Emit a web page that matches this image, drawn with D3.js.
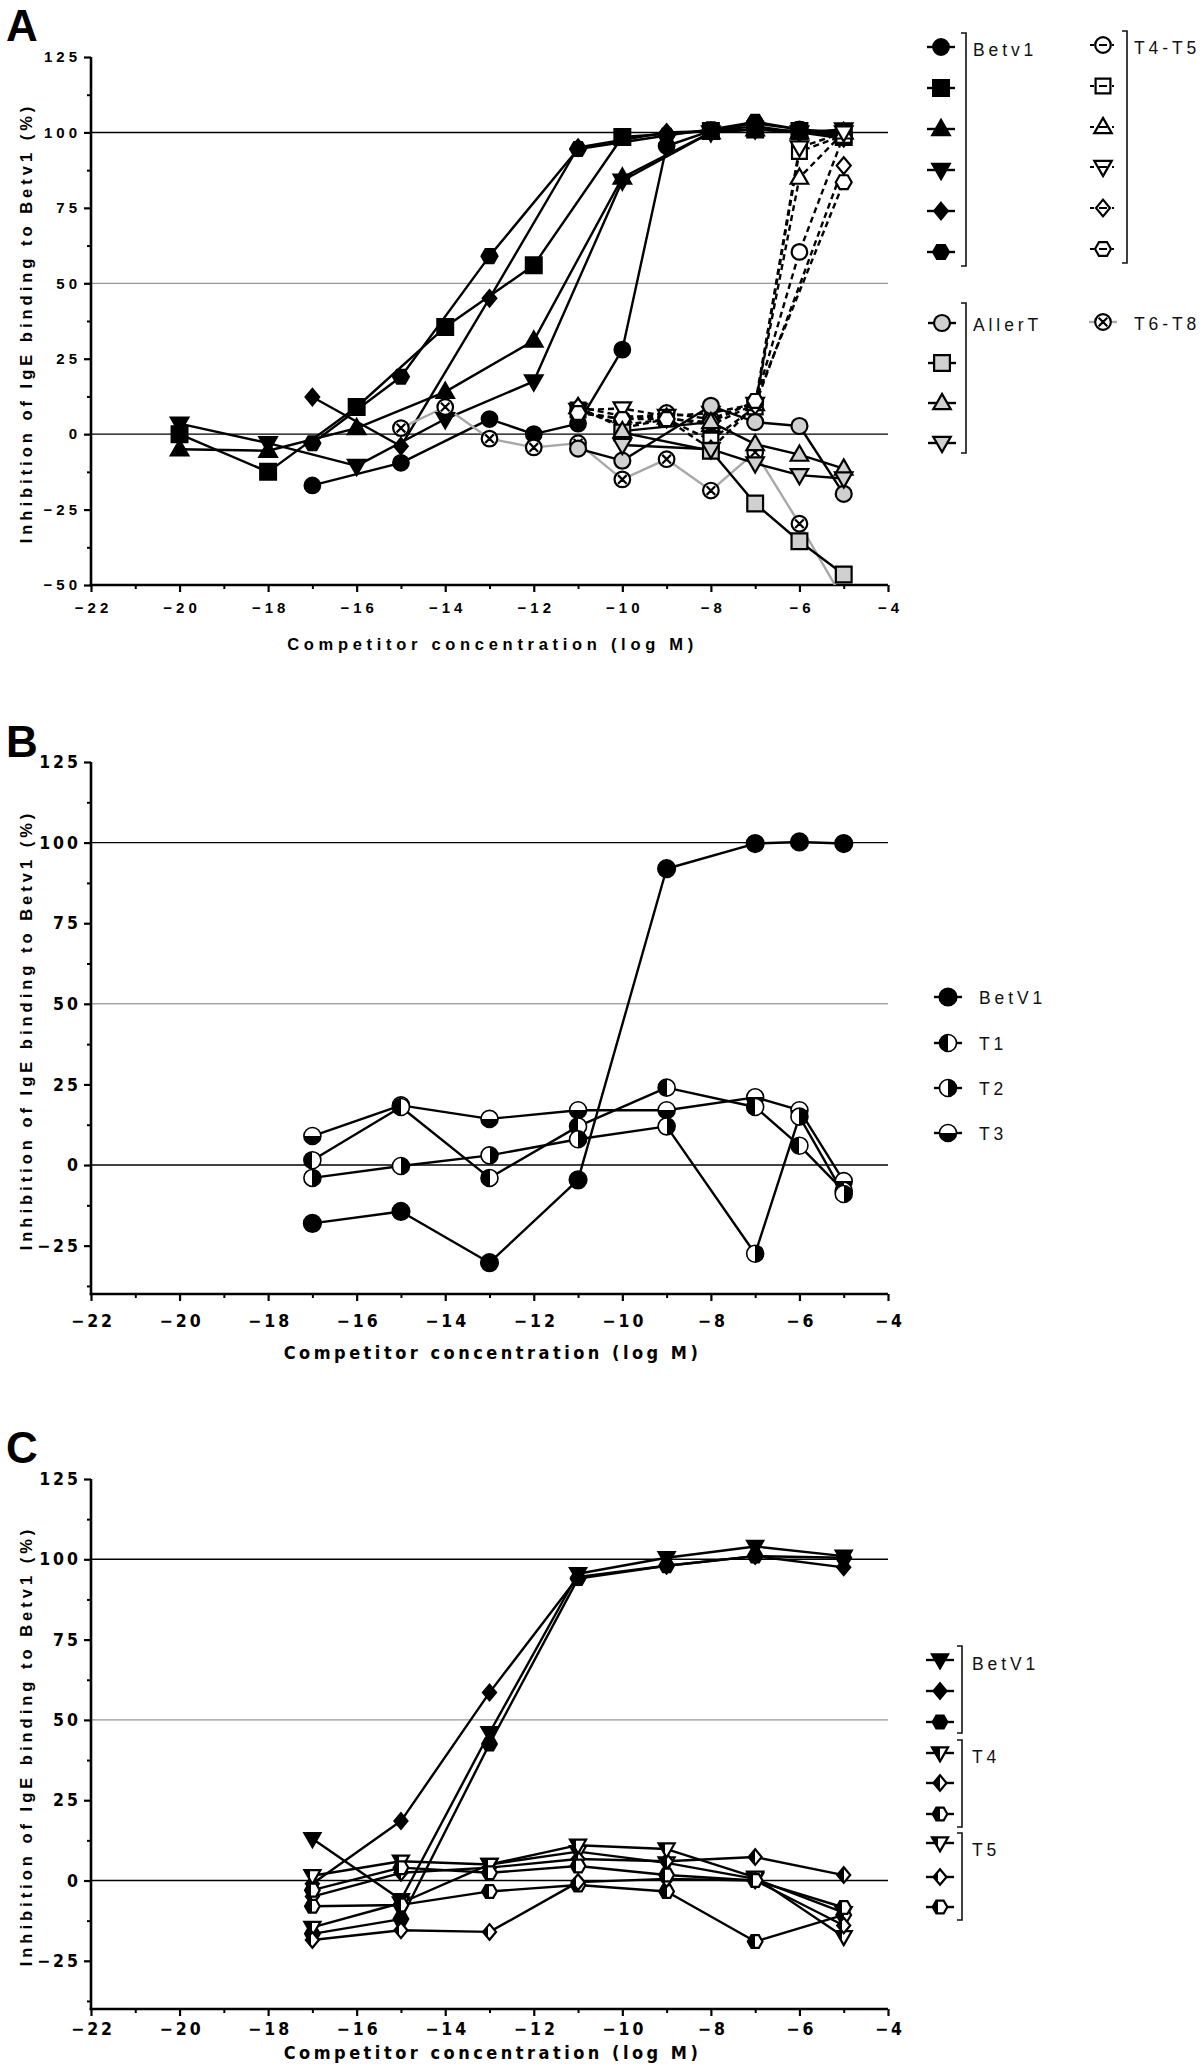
<!DOCTYPE html>
<html><head><meta charset="utf-8">
<script src="https://cdn.jsdelivr.net/npm/d3@7"></script>
<style>body{margin:0;background:#fff}</style>
</head><body>
<script>
// ---------------- DATA ----------------
const xMajorTicks = [-22,-20,-18,-16,-14,-12,-10,-8,-6,-4];
const xMinorTicks = [-21,-19,-17,-15,-13,-11,-9,-7,-5];
const yMajorTicksA = [125,100,75,50,25,0,-25,-50];
const yMinorTicksA = [112.5,87.5,62.5,37.5,12.5,-12.5,-37.5];
const yMajorTicksBC = [125,100,75,50,25,0,-25];
const yMinorTicksBC = [112.5,87.5,62.5,37.5,12.5,-12.5,-37.5];
const gridValues = [100,50,0];
const yTitle = "Inhibition of IgE binding to Betv1 (%)";
const xTitle = "Competitor concentration (log M)";

// Panel A — Betv1 (filled black)
const aBetv1Circle   = [[-17,-17],[-15,-9.5],[-13,5],[-12,0],[-11,3.5],[-10,28],[-9,95.5],[-8,100.5],[-7,103],[-6,101],[-5,99]];
const aBetv1Square   = [[-20,0],[-18,-12.5],[-16,9],[-14,35.5],[-12,56],[-10,98.5],[-8,100.5],[-7,101],[-6,100.5],[-5,98.5]];
const aBetv1TriUp    = [[-20,-5],[-18,-5.5],[-16,2],[-14,14],[-12,31],[-10,85],[-8,100],[-7,101],[-6,100],[-5,100]];
const aBetv1TriDown  = [[-20,3.5],[-18,-3],[-16,-10.5],[-14,5],[-12,17.5],[-10,84],[-8,100],[-7,101],[-6,100],[-5,101]];
const aBetv1Diamond  = [[-17,12.3],[-15,-4],[-13,45],[-11,95],[-9,100],[-8,100.5],[-7,102],[-6,100],[-5,98]];
const aBetv1Hexagon  = [[-17,-3],[-15,19],[-13,59],[-11,94.5],[-9,99],[-8,101],[-7,103.5],[-6,101],[-5,100]];
// Panel A — T4-T5 (open, dashed)
const aT45Circle  = [[-11,7.5],[-10,5],[-9,7],[-8,5],[-7,10.5],[-6,60.4],[-5,99]];
const aT45Square  = [[-11,8],[-10,3],[-9,5],[-8,-2],[-7,9],[-6,93.7],[-5,99]];
const aT45TriUp   = [[-11,9],[-10,6],[-9,5.5],[-8,3],[-7,10],[-6,85],[-5,100]];
const aT45TriDown = [[-11,8],[-10,8.5],[-9,6],[-8,7],[-7,10],[-6,95],[-5,100]];
const aT45Diamond = [[-11,9],[-10,2],[-9,5],[-8,-5],[-7,9.5],[-5,89]];
const aT45Hexagon = [[-11,7],[-10,5],[-9,5],[-8,4],[-7,11],[-5,83.5]];
// Panel A — AllerT (grey)
const aAllerCircle  = [[-11,-4.8],[-10,-8.8],[-8,9.4],[-7,4],[-6,2.7],[-5,-19.8]];
const aAllerSquare  = [[-10,0.5],[-8,-5.5],[-7,-23],[-6,-35.5],[-5,-46.5]];
const aAllerTriUp   = [[-10,1],[-8,4],[-7,-3.3],[-6,-6.8],[-5,-11.4]];
const aAllerTriDown = [[-10,-3.6],[-8,-5],[-7,-9.7],[-6,-13.6],[-5,-14.7]];
// Panel A — T6-T8
const aT68 = [[-15,2],[-14,9],[-13,-1.5],[-12,-4.4],[-11,-3],[-10,-15],[-9,-8.3],[-8,-18.7],[-7,-6],[-6,-29.7],[-5,-55]];

// Panel B
const bBetV1 = [[-17,-18.1],[-15,-14.4],[-13,-30.3],[-11,-4.6],[-9,91.9],[-7,99.7],[-6,100.2],[-5,99.7]];
const bT1    = [[-17,1.5],[-15,18],[-13,-4],[-11,12],[-9,24],[-7,18],[-6,6],[-5,-8]];
const bT2    = [[-17,-4],[-15,-0.3],[-13,3],[-11,8],[-9,12],[-7,-27.5],[-6,15],[-5,-9]];
const bT3    = [[-17,9],[-15,18.5],[-13,14.3],[-11,17],[-9,17],[-7,21],[-6,17],[-5,-5]];

// Panel C
const cBetV1TriDown = [[-17,13],[-15,-6],[-13,46],[-11,95.5],[-9,100.5],[-7,104],[-5,101]];
const cBetV1Diamond = [[-17,-1],[-15,18.5],[-13,58.5],[-11,94.5],[-9,98],[-7,101],[-5,97.5]];
const cBetV1Hexagon = [[-17,-16.6],[-15,-12],[-13,42.5],[-11,94],[-9,98],[-7,101],[-5,100.5]];
const cT4TriDown = [[-17,-14.6],[-15,-7],[-13,5],[-11,9],[-9,5.5],[-7,0.5],[-5,-10]];
const cT4Diamond = [[-17,-5],[-15,2.4],[-13,4],[-11,6.7],[-9,6],[-7,7.3],[-5,1.7]];
const cT4Hexagon = [[-17,-8],[-15,-7.6],[-13,-3.4],[-11,-1.4],[-9,-3.4],[-7,-19],[-5,-10.7]];
const cT5TriDown = [[-17,1.5],[-15,6],[-13,5],[-11,11],[-9,9.8],[-7,1],[-5,-17.5]];
const cT5Diamond = [[-17,-18.5],[-15,-15.5],[-13,-16],[-11,-0.5],[-9,0.5],[-7,0],[-5,-14]];
const cT5Hexagon = [[-17,-3],[-15,4],[-13,2.4],[-11,4.5],[-9,1.7],[-7,0],[-5,-8.4]];

// ---------------- STYLE / LAYOUT ----------------
const W = 1200, H = 2066;
const svg = d3.select("body").append("svg").attr("width", W).attr("height", H)
  .style("font-family", "'Liberation Sans', Arial, sans-serif");
const defs = svg.append("defs");
function grad(id, vertical, stops) {
  const g = defs.append("linearGradient").attr("id", id)
    .attr("x1", 0).attr("y1", 0).attr("x2", vertical ? 0 : 1).attr("y2", vertical ? 1 : 0);
  stops.forEach(s => g.append("stop").attr("offset", s[0]).attr("stop-color", s[1]));
}
grad("halfLeft", false, [[0,"#000"],[0.5,"#000"],[0.5,"#fff"],[1,"#fff"]]);
grad("halfRight", false, [[0,"#fff"],[0.5,"#fff"],[0.5,"#000"],[1,"#000"]]);
grad("halfBottom", true, [[0,"#fff"],[0.5,"#fff"],[0.5,"#000"],[1,"#000"]]);
grad("partLeft", false, [[0,"#000"],[0.38,"#000"],[0.38,"#fff"],[1,"#fff"]]);

function shapePath(shape, r) {
  const f = v => v.toFixed(2);
  switch (shape) {
    case "circle": return `M${f(r)},0A${f(r)},${f(r)} 0 1,1 ${f(-r)},0A${f(r)},${f(r)} 0 1,1 ${f(r)},0Z`;
    case "square": { const s = r * 0.95; return `M${f(-s)},${f(-s)}H${f(s)}V${f(s)}H${f(-s)}Z`; }
    case "triUp": return `M0,${f(-r*1.2)}L${f(r*1.15)},${f(r*0.8)}L${f(-r*1.15)},${f(r*0.8)}Z`;
    case "triDown": return `M0,${f(r*1.2)}L${f(r*1.15)},${f(-r*0.8)}L${f(-r*1.15)},${f(-r*0.8)}Z`;
    case "diamond": return `M0,${f(-r*1.2)}L${f(r*1.0)},0L0,${f(r*1.2)}L${f(-r*1.0)},0Z`;
    case "hexagon": {
      const a = r*1.05, h = a*0.87;
      return `M${f(a)},0L${f(a/2)},${f(h)}L${f(-a/2)},${f(h)}L${f(-a)},0L${f(-a/2)},${f(-h)}L${f(a/2)},${f(-h)}Z`;
    }
    case "cross": {
      const k = r * 0.55;
      return shapePath("circle", r) + `M${f(-k)},${f(-k)}L${f(k)},${f(k)}M${f(-k)},${f(k)}L${f(k)},${f(-k)}`;
    }
  }
}

const x = d3.scaleLinear().domain([-22, -4]).range([91, 888]);
const panels = [
  { id: "A", y: d3.scaleLinear().domain([-50,125]).range([585,57]), yMajor: yMajorTicksA, yMinor: yMinorTicksA,
    letterY: 41, xPad: 10, xTitleY: 650, narrow: false },
  { id: "B", y: d3.scaleLinear().domain([-40,125]).range([1294,762]), yMajor: yMajorTicksBC, yMinor: yMinorTicksBC,
    letterY: 757, xPad: 14, xTitleY: 1359, narrow: true },
  { id: "C", y: d3.scaleLinear().domain([-40,125]).range([2009,1479]), yMajor: yMajorTicksBC, yMinor: yMinorTicksBC,
    letterY: 1463, xPad: 7, xTitleY: 2059, narrow: true }
];
const narrowFont = "'Liberation Sans Narrow', 'DejaVu Sans Condensed', 'Liberation Sans', sans-serif";

function drawFrame(p) {
  const g = svg.append("g");
  const y = p.y;
  gridValues.forEach(v => {
    g.append("line").attr("x1", x(-22)).attr("x2", x(-4)).attr("y1", y(v)).attr("y2", y(v))
      .attr("stroke", v === 50 ? "#7a7a7a" : "#000").attr("stroke-width", v === 50 ? 1 : 1.4);
  });
  const tickFont = p.narrow ? 17.5 : 15;
  const tickSpace = p.narrow ? "3px" : "4px";
  const yAx = g.append("g").attr("transform", `translate(${x(-22)},0)`)
    .call(d3.axisLeft(y).tickValues(p.yMajor).tickSize(7).tickSizeOuter(0).tickPadding(3));
  yAx.select(".domain").attr("stroke-width", 2.6).attr("d", `M0,${y.range()[1]}V${y.range()[0]+1.3}`);
  yAx.selectAll(".tick line").attr("stroke-width", 2.2);
  yAx.selectAll(".tick text").attr("font-size", tickFont).attr("font-weight", "bold").attr("fill", "#000")
    .attr("font-family", p.narrow ? narrowFont : null).style("letter-spacing", tickSpace);
  g.append("g").attr("transform", `translate(${x(-22)},0)`)
    .call(d3.axisLeft(y).tickValues(p.yMinor).tickSize(4).tickFormat(""))
    .call(s => s.select(".domain").remove())
    .selectAll("line").attr("stroke-width", 2);
  const yBase = y.range()[0];
  const xAx = g.append("g").attr("transform", `translate(0,${yBase})`)
    .call(d3.axisBottom(x).tickValues(xMajorTicks).tickSize(7).tickSizeOuter(0).tickPadding(p.xPad));
  xAx.select(".domain").attr("stroke-width", 2.6).attr("d", `M${x(-22)-1.3},0H${x(-4)}`);
  xAx.selectAll(".tick line").attr("stroke-width", 2.2);
  xAx.selectAll(".tick text").attr("font-size", tickFont).attr("font-weight", "bold").attr("fill", "#000")
    .attr("font-family", p.narrow ? narrowFont : null).style("letter-spacing", tickSpace)
    .attr("dx", p.narrow ? "1.5px" : "2px");
  g.append("g").attr("transform", `translate(0,${yBase})`)
    .call(d3.axisBottom(x).tickValues(xMinorTicks).tickSize(4).tickFormat(""))
    .call(s => s.select(".domain").remove())
    .selectAll("line").attr("stroke-width", 2);
  const yMid = (y.range()[0] + y.range()[1]) / 2;
  g.append("text").attr("transform", `translate(32,${yMid + 2}) rotate(-90)`).attr("text-anchor", "middle")
    .attr("font-size", 16.5).attr("font-weight", "bold").style("letter-spacing", "4px")
    .text(yTitle);
  g.append("text").attr("x", (x(-22) + x(-4)) / 2 + 3).attr("y", p.xTitleY).attr("text-anchor", "middle")
    .attr("font-size", p.narrow ? 18 : 16.5).attr("font-weight", "bold")
    .attr("font-family", p.narrow ? narrowFont : null)
    .style("letter-spacing", p.narrow ? "3.5px" : "4.7px").text(xTitle);
  g.append("text").attr("x", 6).attr("y", p.letterY).attr("font-size", 44).attr("font-weight", "bold").text(p.id);
  defs.append("clipPath").attr("id", "clip" + p.id).append("rect")
    .attr("x", x(-22)).attr("y", y.range()[1] - 20).attr("width", x(-4) - x(-22) + 20)
    .attr("height", y.range()[0] - y.range()[1] + 20);
}
panels.forEach(drawFrame);

function drawSeries(p, list) {
  const y = p.y;
  const line = d3.line().x(d => x(d[0])).y(d => y(d[1]));
  const gl = svg.append("g").attr("clip-path", `url(#clip${p.id})`);
  list.forEach(s => {
    gl.append("path").datum(s.data).attr("d", line).attr("fill", "none")
      .attr("stroke", s.lineColor || "#000").attr("stroke-width", 2.4)
      .attr("stroke-dasharray", s.dash || null).attr("stroke-linejoin", "round");
  });
  const [lo, hi] = y.domain();
  list.forEach(s => {
    svg.append("g").selectAll("path").data(s.data.filter(d => d[1] >= lo && d[1] <= hi)).join("path")
      .attr("transform", d => `translate(${x(d[0])},${y(d[1])})`)
      .attr("d", shapePath(s.shape, s.r))
      .attr("fill", s.fill).attr("stroke", "#000").attr("stroke-width", s.sw || 2.2);
  });
}

const GREY = "#d0d0d0";
const seriesA = [
  { data: aBetv1Circle, shape: "circle", fill: "#000", r: 7.8 },
  { data: aBetv1Square, shape: "square", fill: "#000", r: 8.3 },
  { data: aBetv1TriUp, shape: "triUp", fill: "#000", r: 7.6 },
  { data: aBetv1TriDown, shape: "triDown", fill: "#000", r: 7.6 },
  { data: aBetv1Diamond, shape: "diamond", fill: "#000", r: 6.8 },
  { data: aBetv1Hexagon, shape: "hexagon", fill: "#000", r: 7.6 },
  { data: aT68, shape: "cross", fill: "#fff", r: 7.8, lineColor: "#a8a8a8" },
  { data: aT45Circle, shape: "circle", fill: "#fff", r: 7.8, dash: "6,4" },
  { data: aT45Square, shape: "square", fill: "#fff", r: 7.8, dash: "6,4" },
  { data: aT45TriUp, shape: "triUp", fill: "#fff", r: 7.6, dash: "6,4" },
  { data: aT45TriDown, shape: "triDown", fill: "#fff", r: 7.6, dash: "6,4" },
  { data: aT45Diamond, shape: "diamond", fill: "#fff", r: 7, dash: "6,4" },
  { data: aT45Hexagon, shape: "hexagon", fill: "#fff", r: 7.6, dash: "6,4" },
  { data: aAllerCircle, shape: "circle", fill: GREY, r: 8 },
  { data: aAllerSquare, shape: "square", fill: GREY, r: 8.3 },
  { data: aAllerTriUp, shape: "triUp", fill: GREY, r: 7.6 },
  { data: aAllerTriDown, shape: "triDown", fill: GREY, r: 7.6 }
];
const seriesB = [
  { data: bBetV1, shape: "circle", fill: "#000", r: 8.5 },
  { data: bT3, shape: "circle", fill: "url(#halfBottom)", r: 8.5, sw: 1.6 },
  { data: bT1, shape: "circle", fill: "url(#halfLeft)", r: 8.5, sw: 1.6 },
  { data: bT2, shape: "circle", fill: "url(#halfRight)", r: 8.5, sw: 1.6 }
];
const seriesC = [
  { data: cBetV1TriDown, shape: "triDown", fill: "#000", r: 7 },
  { data: cBetV1Diamond, shape: "diamond", fill: "#000", r: 6.5 },
  { data: cBetV1Hexagon, shape: "hexagon", fill: "#000", r: 7 },
  { data: cT4TriDown, shape: "triDown", fill: "url(#halfLeft)", r: 7 },
  { data: cT4Diamond, shape: "diamond", fill: "url(#halfLeft)", r: 6.5 },
  { data: cT4Hexagon, shape: "hexagon", fill: "url(#halfLeft)", r: 7 },
  { data: cT5TriDown, shape: "triDown", fill: "url(#partLeft)", r: 7 },
  { data: cT5Diamond, shape: "diamond", fill: "url(#partLeft)", r: 6.5 },
  { data: cT5Hexagon, shape: "hexagon", fill: "url(#partLeft)", r: 7 }
];
drawSeries(panels[0], seriesA);
drawSeries(panels[1], seriesB);
drawSeries(panels[2], seriesC);

// ---------------- LEGENDS ----------------
const legendText = (lx, ly, t) => svg.append("text").attr("x", lx).attr("y", ly).attr("font-size", 17.5)
  .attr("fill", "#111").style("letter-spacing", "3.9px").text(t);
function legendItem(cx, cy, s) {
  const half = 14;
  if (!s.dash) {
    svg.append("line").attr("x1", cx - half).attr("x2", cx + half).attr("y1", cy).attr("y2", cy)
      .attr("stroke", s.lineColor || "#000").attr("stroke-width", 2.4);
  }
  svg.append("path").attr("transform", `translate(${cx},${cy})`).attr("d", shapePath(s.shape, s.r))
    .attr("fill", s.fill).attr("stroke", "#000").attr("stroke-width", s.sw || 2.2);
  if (s.dash) {
    svg.append("line").attr("x1", cx - 13).attr("x2", cx + 13).attr("y1", cy).attr("y2", cy)
      .attr("stroke", "#000").attr("stroke-width", 2.2)
      .attr("stroke-dasharray", "4,5,8,5,2");
  }
}
function bracket(bx, y0, y1) {
  svg.append("path").attr("d", `M${bx-5},${y0}H${bx}V${y1}H${bx-5}`).attr("fill", "none")
    .attr("stroke", "#111").attr("stroke-width", 1.6);
}
// Legend A
const legA1Y = [47, 88, 129, 170, 211, 252];
seriesA.slice(0, 6).forEach((s, i) => legendItem(941, legA1Y[i], s));
bracket(966, 33, 266); legendText(973, 56, "Betv1");
const legA2Y = [45, 86, 127, 167, 208, 249];
seriesA.slice(7, 13).forEach((s, i) => legendItem(1103, legA2Y[i], s));
bracket(1127, 31, 263); legendText(1134, 54, "T4-T5");
const legA3Y = [323, 363, 403, 443];
seriesA.slice(13, 17).forEach((s, i) => legendItem(942, legA3Y[i], s));
bracket(966, 303, 453); legendText(973, 331, "AllerT");
legendItem(1103, 322, seriesA[6]); legendText(1134, 330, "T6-T8");
// Legend B
const legBY = [997, 1043, 1088, 1133];
const legBNames = ["BetV1", "T1", "T2", "T3"];
[seriesB[0], seriesB[2], seriesB[3], seriesB[1]].forEach((s, i) => {
  legendItem(948, legBY[i], s);
  legendText(979, legBY[i] + 7, legBNames[i]);
});
// Legend C
const legCY = [1660, 1691, 1722, 1753, 1783, 1814, 1843, 1877, 1907];
seriesC.forEach((s, i) => legendItem(940, legCY[i], s));
bracket(962, 1646, 1733); legendText(972, 1670, "BetV1");
bracket(962, 1740, 1827); legendText(972, 1763, "T4");
bracket(962, 1833, 1920); legendText(972, 1856, "T5");
</script>
</body></html>
